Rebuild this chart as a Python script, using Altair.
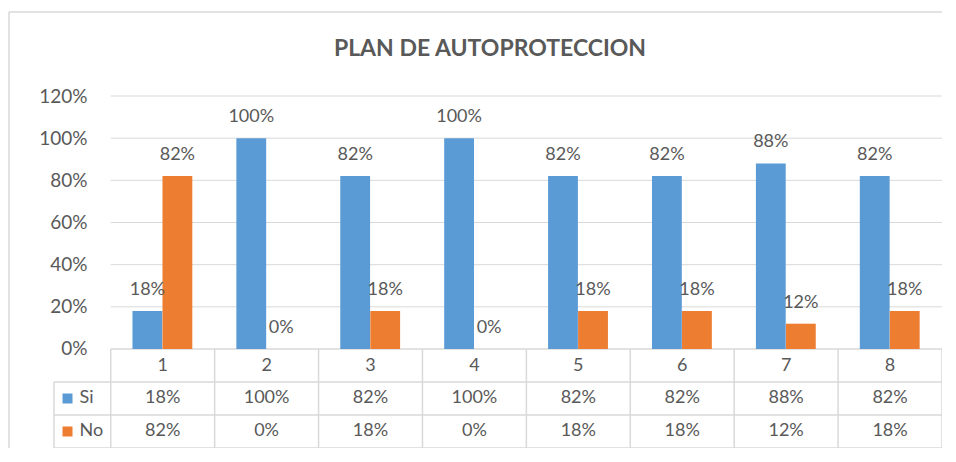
import altair as alt
import pandas as pd

# ---- data ----
categories = ["1", "2", "3", "4", "5", "6", "7", "8"]
series_names = ["Si", "No"]
si_values = [0.18, 1.00, 0.82, 1.00, 0.82, 0.82, 0.88, 0.82]
no_values = [0.82, 0.00, 0.18, 0.00, 0.18, 0.18, 0.12, 0.18]
y_ticks = [0.0, 0.2, 0.4, 0.6, 0.8, 1.0, 1.2]
series_colors = ["#5B9BD5", "#ED7D31"]
title_text = "PLAN DE AUTOPROTECCION"

# ---- style / layout constants ----
FONT = "Lato"
TEXT = "#595959"
LINE = "#D9D9D9"
X_MIN, X_MAX = -0.546, 8.0          # legend column + 8 category columns
Y_MIN, Y_MAX = -0.4696, 1.2         # table rows below zero + value range
BAR_START = {"Si": 0.209, "No": 0.498}
BAR_W = 0.287
ROWS = [0.0, -0.1565, -0.313, -0.4696]   # table row boundaries (data units)
ROW_CENTER = {"cat": -0.0783, "Si": -0.2348, "No": -0.3913}

xscale = alt.Scale(domain=[X_MIN, X_MAX], nice=False, zero=False)
yscale = alt.Scale(domain=[Y_MIN, Y_MAX], nice=False, zero=False)
yaxis = alt.Axis(values=y_ticks, format=".0%", domain=False, ticks=False, grid=False,
                 labelFont=FONT, labelFontSize=19, labelColor=TEXT, offset=-57,
                 labelPadding=24, title=None)


def X(f):
    return alt.X(f, type="quantitative", scale=xscale, axis=None)


def Y(f):
    return alt.Y(f, type="quantitative", scale=yscale, axis=yaxis)


# ---- tables built from the arrays ----
rows = []
for i, cat in enumerate(categories):
    for s, vals in zip(series_names, [si_values, no_values]):
        v = vals[i]
        x0 = i + BAR_START[s]
        rows.append({
            "cat": cat, "series": s, "value": v, "zero": 0.0,
            "x0": x0, "x1": x0 + BAR_W, "xc": x0 + BAR_W / 2,
            "colc": i + 0.5, "rowy": ROW_CENTER[s],
            "label": f"{round(v * 100)}%",
        })
bars_df = pd.DataFrame(rows)

cat_df = pd.DataFrame({"cat": categories,
                       "colc": [i + 0.5 for i in range(len(categories))],
                       "rowy": [ROW_CENTER["cat"]] * len(categories)})

grid_df = pd.DataFrame({"y": y_ticks[1:], "x0": 0.0, "x1": float(len(categories))})

hlines = pd.DataFrame({
    "y": ROWS,
    "x0": [0.0] + [X_MIN] * 3,
    "x1": [float(len(categories))] * 4,
})
vlines = pd.DataFrame({
    "x": [X_MIN] + [float(i) for i in range(len(categories) + 1)],
    "y0": [ROWS[1]] + [0.0] * (len(categories) + 1),
    "y1": [ROWS[3]] * (len(categories) + 2),
})
legend_df = pd.DataFrame({"series": series_names,
                          "rowy": [ROW_CENTER[s] for s in series_names],
                          "sx": -0.416, "tx": -0.30})

color = alt.Color("series:N", scale=alt.Scale(domain=series_names, range=series_colors),
                  legend=None)

# outer frame: only its left and top edges fall inside the picture
frame_left = alt.Chart(alt.Data(values=[{}])).mark_rule(color=LINE, strokeWidth=1.5).encode(
    x=alt.value(-45), y=alt.value(-84), y2=alt.value(400))
frame_top = alt.Chart(alt.Data(values=[{}])).mark_rule(color=LINE, strokeWidth=1.5).encode(
    x=alt.value(-45), x2=alt.value(900), y=alt.value(-84))

grid = alt.Chart(grid_df).mark_rule(color=LINE, strokeWidth=1).encode(
    x=X("x0"), x2="x1", y=Y("y"))

bars = alt.Chart(bars_df).mark_rect().encode(
    x=X("x0"), x2="x1", y=Y("value"), y2="zero", color=color)

bar_labels = alt.Chart(bars_df).mark_text(
    font=FONT, fontSize=18, color=TEXT, baseline="alphabetic", dy=-16).encode(
    x=X("xc"), y=Y("value"), text="label:N")

hl = alt.Chart(hlines).mark_rule(color=LINE, strokeWidth=1.5).encode(
    x=X("x0"), x2="x1", y=Y("y"))
vl = alt.Chart(vlines).mark_rule(color=LINE, strokeWidth=1.5).encode(
    x=X("x"), y=Y("y0"), y2="y1")

cat_text = alt.Chart(cat_df).mark_text(
    font=FONT, fontSize=18, color=TEXT, baseline="middle").encode(
    x=X("colc"), y=Y("rowy"), text="cat:N")

val_text = alt.Chart(bars_df).mark_text(
    font=FONT, fontSize=18, color=TEXT, baseline="middle").encode(
    x=X("colc"), y=Y("rowy"), text="label:N")

leg_sq = alt.Chart(legend_df).mark_square(size=100, opacity=1).encode(
    x=X("sx"), y=Y("rowy"), color=color)
leg_tx = alt.Chart(legend_df).mark_text(
    font=FONT, fontSize=18, color=TEXT, baseline="middle", align="left").encode(
    x=X("tx"), y=Y("rowy"), text="series:N")

chart = alt.layer(frame_left, frame_top, grid, hl, vl, bars, bar_labels, cat_text,
                  val_text, leg_sq, leg_tx).properties(
    width=888, height=352,
    title=alt.TitleParams(title_text, font=FONT, fontSize=23, fontWeight="bold",
                          color=TEXT, anchor="middle", frame="group", dx=-8,
                          offset=-50),
    autosize=alt.AutoSizeParams(type="none"),
    padding={"left": 46, "top": 88, "right": 0, "bottom": 0},
).configure(background="white", view=alt.ViewConfig(stroke=None))

chart.save("out.html", embed_options={"renderer": "svg", "actions": False})
